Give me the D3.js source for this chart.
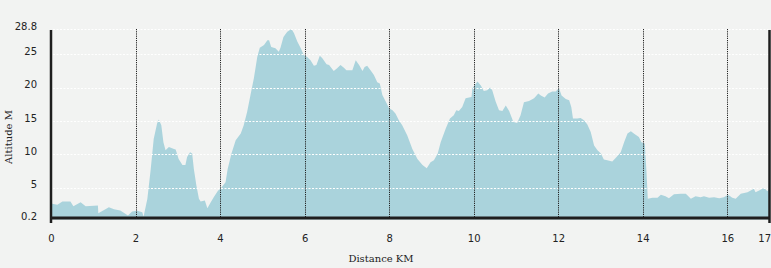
<!DOCTYPE html>
<html>
<head>
<meta charset="utf-8">
<script src="https://cdn.jsdelivr.net/npm/d3@7"></script>
<style>
    body { margin: 0; background: #f2f3f2; }
    svg { display: block; }
</style>
</head>
<body>
<div id="chart"></div>
<script>
// Altitude profile along the route, km vs metres

var distanceKm = [
    0, 0.15, 0.27, 0.46, 0.53, 0.70, 0.82, 1.11, 1.12, 1.37, 1.49, 1.64, 1.74, 1.82, 1.92,
    2.04, 2.16, 2.19, 2.28, 2.36, 2.43, 2.51, 2.55, 2.61, 2.66, 2.71, 2.79, 2.91, 2.95,
    3.02, 3.11, 3.18, 3.22, 3.29, 3.34, 3.38, 3.44, 3.50, 3.54, 3.64, 3.70, 3.78, 3.85, 3.95,
    4.01, 4.13, 4.18, 4.27, 4.37, 4.49, 4.56, 4.64, 4.72, 4.80, 4.88, 4.94,
    5.04, 5.12, 5.16, 5.21, 5.31, 5.39, 5.43, 5.50, 5.59, 5.69, 5.75, 5.83, 5.91, 5.98,
    6.06, 6.14, 6.22, 6.28, 6.36, 6.42, 6.52, 6.58, 6.69, 6.77, 6.85, 6.93, 6.99,
    7.13, 7.21, 7.29, 7.37, 7.42, 7.48, 7.56, 7.64, 7.72, 7.78, 7.84, 7.92,
    8.00, 8.08, 8.15, 8.23, 8.31, 8.43, 8.55, 8.67, 8.79, 8.89, 8.98,
    9.06, 9.15, 9.22, 9.34, 9.44, 9.53, 9.59, 9.65, 9.73, 9.81, 9.89, 9.95, 9.97,
    10.09, 10.17, 10.24, 10.32, 10.39, 10.44, 10.52, 10.60, 10.68, 10.76, 10.84, 10.94,
    11.03, 11.11, 11.19, 11.31, 11.43, 11.53, 11.59, 11.68, 11.76, 11.86, 11.94,
    12.02, 12.08, 12.18, 12.26, 12.31, 12.35, 12.45, 12.53, 12.61, 12.69, 12.77, 12.85, 12.93,
    13.01, 13.08, 13.16, 13.28, 13.36, 13.48, 13.56, 13.64, 13.72, 13.79, 13.91, 13.97,
    14.05, 14.09, 14.12, 14.23, 14.35, 14.43, 14.54, 14.62, 14.74, 14.90,
    15.02, 15.14, 15.25, 15.37, 15.45, 15.57, 15.69, 15.81, 15.92,
    16.02, 16.12, 16.20, 16.32, 16.48, 16.63, 16.67, 16.79, 16.87, 16.95, 17
];

var altitudeM = [
    2.6, 2.4, 2.9, 2.9, 2.2, 2.8, 2.2, 2.3, 1.15, 2.05, 1.75, 1.55, 1.15, 0.8, 1.4,
    1.5, 1.3, 0.6, 3.3, 7.8, 12.3, 14.6, 15.2, 14.35, 11.8, 10.6, 11.1, 10.8, 10.7,
    9.3, 8.4, 8.4, 9.6, 10.3, 10.1, 7.8, 5.3, 3.3, 2.9, 3.05, 1.9, 2.8, 3.55, 4.5,
    4.8, 5.8, 7.8, 10.1, 12.1, 13.1, 14.35, 16.35, 18.9, 21.4, 24.6, 26,
    26.4, 27.1, 27.1, 26.1, 25.9, 25.4, 26, 27.6, 28.4, 28.8, 28.15, 26.9, 25.9, 24.9,
    24.6, 24.1, 23.3, 23.4, 24.8, 24.4, 23.5, 23.4, 22.5, 22.9, 23.4, 23, 22.6,
    22.6, 24.1, 23.4, 22.5, 23.1, 23.3, 22.6, 21.9, 20.8, 20.6, 18.9, 17.9,
    16.9, 16.6, 16.1, 15.1, 14.35, 12.8, 10.8, 9.3, 8.4, 7.9, 8.8,
    9.1, 10.1, 11.8, 13.85, 15.35, 15.85, 16.6, 16.5, 17.1, 18.4, 18.5, 18.6, 19.9,
    20.9, 20.3, 19.5, 19.6, 20, 19.6, 17.9, 16.6, 16.5, 17.3, 16.5, 14.85,
    14.7, 15.85, 17.8, 18, 18.4, 19.1, 18.8, 18.5, 19.1, 19.4, 19.4,
    19.9, 18.8, 18.3, 18.1, 17.1, 15.35, 15.35, 15.45, 15.1, 14.45, 13.35, 11.3, 10.6,
    10.1, 9.2, 9.1, 8.9, 9.45, 10.3, 11.8, 13.1, 13.45, 13.1, 12.6, 11.8,
    11.6, 7.3, 3.3, 3.45, 3.45, 3.9, 3.7, 3.4, 4.0, 4.05,
    4.05, 3.3, 3.7, 3.55, 3.7, 3.45, 3.55, 3.4, 3.55,
    3.9, 3.45, 3.3, 4.05, 4.3, 4.8, 4.3, 4.65, 4.95, 4.45, 4.8
];

var xTicks = [0, 2, 4, 6, 8, 10, 12, 14, 16, 17];
var xGridKm = [2, 4, 6, 8, 10, 12, 14, 16];
var yTicks = [0.2, 5, 10, 15, 20, 25, 28.8];

var width = 771;
var height = 268;

var points = distanceKm.map(function(d, i) {
    return { km: d, alt: altitudeM[i] };
});

var svg = d3.select("#chart")
    .append("svg")
    .attr("width", width)
    .attr("height", height);

svg.append("rect")
    .attr("width", width)
    .attr("height", height)
    .attr("fill", "#f2f3f2");

var x = d3.scaleLinear().domain([0, 17]).range([51, 769.5]);
var y = d3.scaleLinear().domain([0.2, 28.8]).range([219.5, 29]);

// Filled profile
var area = d3.area()
    .x(function(d) { return x(d.km); })
    .y0(y(0.2))
    .y1(function(d) { return y(d.alt); });

svg.append("path")
    .datum(points)
    .attr("d", area)
    .attr("fill", "#aad3dc");

// White dotted horizontal grid
svg.append("g")
    .selectAll("line")
    .data(yTicks.filter(function(d) { return d > 0.2; }))
    .enter()
    .append("line")
    .attr("x1", x(0) + 2)
    .attr("x2", x(17) - 1)
    .attr("y1", function(d) { return Math.round(y(d)) + 0.5; })
    .attr("y2", function(d) { return Math.round(y(d)) + 0.5; })
    .attr("stroke", "#ffffff")
    .attr("stroke-width", 1)
    .attr("stroke-dasharray", "2,1.5");

// Black dotted vertical grid
svg.append("g")
    .selectAll("line")
    .data(xGridKm)
    .enter()
    .append("line")
    .attr("x1", function(d) { return Math.round(x(d)) + 0.5; })
    .attr("x2", function(d) { return Math.round(x(d)) + 0.5; })
    .attr("y1", y(28.8))
    .attr("y2", 217)
    .attr("stroke", "#222222")
    .attr("stroke-width", 1)
    .attr("stroke-dasharray", "1.2,1");

// Axes lines
svg.append("line")
    .attr("x1", x(0)).attr("x2", x(0))
    .attr("y1", 30).attr("y2", 223)
    .attr("stroke", "#1e1e1e").attr("stroke-width", 2.5);

svg.append("line")
    .attr("x1", x(17)).attr("x2", x(17))
    .attr("y1", 30).attr("y2", 223)
    .attr("stroke", "#1e1e1e").attr("stroke-width", 2.5);

svg.append("line")
    .attr("x1", x(0)).attr("x2", x(17))
    .attr("y1", 218).attr("y2", 218)
    .attr("stroke", "#1e1e1e").attr("stroke-width", 3);

// Tick labels via d3 axes
var xAxis = d3.axisBottom(x)
    .tickValues(xTicks)
    .tickSize(0)
    .tickPadding(0)
    .tickFormat(d3.format("d"));

var gx = svg.append("g")
    .attr("transform", "translate(0,242)")
    .call(xAxis);

gx.select(".domain").remove();
gx.selectAll("text")
    .attr("dy", 0)
    .attr("font-family", "DejaVu Sans, sans-serif")
    .attr("font-size", "10px")
    .attr("fill", "#222222");

// last label sits flush with the right edge
gx.selectAll(".tick")
    .filter(function(d) { return d === 17; })
    .select("text")
    .attr("text-anchor", "end")
    .attr("x", 1);

var yAxis = d3.axisLeft(y)
    .tickValues(yTicks)
    .tickSize(0)
    .tickPadding(0)
    .tickFormat(function(d) { return String(d); });

var gy = svg.append("g")
    .attr("transform", "translate(37,-3)")
    .call(yAxis);

gy.select(".domain").remove();
gy.selectAll("text")
    .attr("font-family", "DejaVu Sans, sans-serif")
    .attr("font-size", "10px")
    .attr("fill", "#222222");

// Axis titles
svg.append("text")
    .attr("x", 381)
    .attr("y", 262)
    .attr("text-anchor", "middle")
    .attr("font-family", "DejaVu Serif, serif")
    .attr("font-size", "10px")
    .attr("fill", "#222222")
    .text("Distance KM");

svg.append("text")
    .attr("transform", "translate(12,137) rotate(-90)")
    .attr("text-anchor", "middle")
    .attr("font-family", "DejaVu Serif, serif")
    .attr("font-size", "10px")
    .attr("fill", "#222222")
    .text("Altitude M");
</script>
</body>
</html>
